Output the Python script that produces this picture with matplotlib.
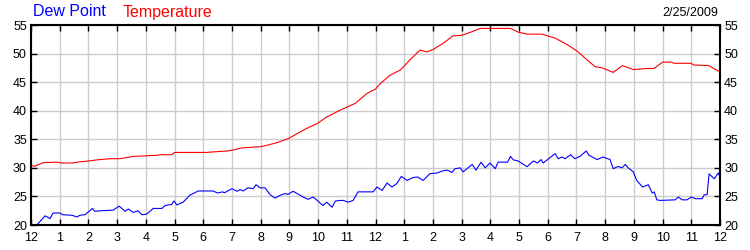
import matplotlib
matplotlib.use('Agg')
import matplotlib.pyplot as plt

plt.rcParams['font.family'] = ['Liberation Sans', 'DejaVu Sans']

# hours since midnight (2/25/2009)
temp_hours = [0.0, 0.14, 0.42, 0.9, 1.07, 1.46, 1.6, 2.0, 2.3, 2.75, 3.1, 3.55,
              4.4, 4.5, 4.9, 5.0, 6.1, 6.93, 7.35, 7.98, 8.1, 8.33, 8.57, 9.0,
              9.27, 9.6, 9.97, 10.3, 10.77, 11.3, 11.46, 11.7, 12.0, 12.16, 12.5,
              12.86, 13.2, 13.55, 13.8, 14.0, 14.36, 14.7, 15.0, 15.3, 15.64,
              16.7, 17.0, 17.3, 17.8, 18.26, 18.7, 19.06, 19.3, 19.65, 19.9,
              20.28, 20.6, 20.98, 21.5, 21.7, 22.0, 22.3, 22.4, 23.0, 23.07,
              23.6, 24.0]
temperature = [30.4, 30.3, 30.9, 31.0, 30.85, 30.85, 31.0, 31.2, 31.4, 31.6, 31.6, 32.0,
               32.2, 32.3, 32.3, 32.7, 32.7, 33.0, 33.5, 33.7, 33.8, 34.1, 34.4, 35.2,
               36.0, 36.9, 37.75, 38.9, 40.1, 41.3, 42.0, 43.0, 43.8, 44.7, 46.2,
               47.1, 48.9, 50.6, 50.3, 50.7, 51.8, 53.1, 53.2, 53.7, 54.4,
               54.4, 53.7, 53.4, 53.4, 52.7, 51.5, 50.3, 49.2, 47.7, 47.5,
               46.7, 47.9, 47.2, 47.4, 47.4, 48.5, 48.5, 48.3, 48.3, 48.0,
               47.9, 46.8]

dew_hours = [0.0, 0.2, 0.49, 0.57, 0.66, 0.77, 1.0, 1.1, 1.43, 1.6, 1.7, 1.88,
             2.05, 2.14, 2.22, 2.47, 2.86, 3.07, 3.28, 3.39, 3.56, 3.73, 3.86,
             4.03, 4.26, 4.56, 4.67, 4.9, 4.98, 5.08, 5.3, 5.53, 5.82, 6.34,
             6.5, 6.67, 6.74, 7.0, 7.18, 7.28, 7.39, 7.56, 7.74, 7.84, 7.98,
             8.15, 8.33, 8.5, 8.6, 8.68, 8.85, 8.95, 9.13, 9.27, 9.48, 9.65,
             9.83, 9.97, 10.17, 10.3, 10.49, 10.6, 10.77, 10.88, 11.05, 11.22,
             11.39, 11.7, 11.92, 12.05, 12.23, 12.4, 12.57, 12.74, 12.9, 13.1,
             13.3, 13.47, 13.66, 13.9, 14.15, 14.32, 14.5, 14.67, 14.77, 14.95,
             15.05, 15.37, 15.5, 15.68, 15.82, 15.99, 16.17, 16.27, 16.6, 16.7,
             16.8, 16.97, 17.28, 17.5, 17.64, 17.77, 17.84, 18.08, 18.26, 18.36,
             18.5, 18.6, 18.8, 18.94, 19.12, 19.34, 19.44, 19.72, 19.93, 20.17,
             20.28, 20.45, 20.59, 20.7, 20.8, 20.98, 21.1, 21.3, 21.5, 21.64,
             21.71, 21.8, 21.92, 22.44, 22.55, 22.68, 22.85, 23.0, 23.14, 23.38,
             23.45, 23.55, 23.62, 23.8, 23.94, 24.0]
dew_point = [20.0, 20.0, 21.6, 21.4, 21.1, 22.1, 22.1, 21.8, 21.7, 21.4, 21.7, 21.8,
             22.5, 22.9, 22.4, 22.5, 22.6, 23.3, 22.4, 22.8, 22.2, 22.5, 21.8,
             21.9, 22.9, 22.9, 23.4, 23.6, 24.2, 23.5, 24.0, 25.2, 25.95, 25.95,
             25.6, 25.8, 25.65, 26.35, 25.9, 26.2, 25.95, 26.5, 26.35, 27.05, 26.5,
             26.5, 25.3, 24.7, 25.0, 25.2, 25.5, 25.35, 25.9, 25.5, 24.9, 24.5,
             24.9, 24.3, 23.4, 24.0, 23.1, 24.2, 24.3, 24.3, 24.0, 24.3,
             25.8, 25.8, 25.8, 26.65, 26.05, 27.35, 26.65, 27.25, 28.5, 27.8,
             28.3, 28.4, 27.8, 29.0, 29.1, 29.45, 29.6, 29.2, 29.85, 30.0,
             29.3, 30.6, 29.6, 31.0, 30.0, 30.85, 29.85, 31.0, 31.0, 32.0,
             31.4, 31.2, 30.2, 31.2, 30.85, 31.45, 30.85, 31.8, 32.5, 31.6,
             31.9, 31.6, 32.3, 31.6, 32.0, 32.95, 32.2, 31.45, 31.9, 31.45,
             29.85, 30.25, 30.0, 30.6, 30.0, 29.3, 27.8, 26.65, 27.05, 25.6,
             25.8, 24.4, 24.3, 24.4, 24.9, 24.4, 24.4, 24.9, 24.6, 24.6,
             25.3, 25.3, 28.95, 28.1, 29.1, 28.4]

hour_ticks = list(range(0, 25))
hour_labels = ['12', '1', '2', '3', '4', '5', '6', '7', '8', '9', '10', '11',
               '12', '1', '2', '3', '4', '5', '6', '7', '8', '9', '10', '11', '12']
y_ticks = [20, 25, 30, 35, 40, 45, 50, 55]

fig = plt.figure(figsize=(7.5, 2.5), dpi=100)
ax = fig.add_axes([31 / 750, 0.1, 689 / 750, 0.8])

ax.plot(temp_hours, temperature, color='#ff0000', lw=0.8)
ax.plot(dew_hours, dew_point, color='#0000ff', lw=0.8)

ax.set_xlim(0, 24)
ax.set_ylim(20, 55)
ax.set_xticks(hour_ticks)
ax.set_xticklabels(hour_labels)
ax.set_yticks(y_ticks)

ax.grid(True, color='#cccccc', lw=1)
ax.set_axisbelow(True)
for s in ax.spines.values():
    s.set_linewidth(1.5)
    s.set_color('black')

ax.tick_params(axis='both', direction='in', length=4, width=1, labelsize=9,
               top=True, right=True, labelright=True, pad=3)
ax.tick_params(axis='x', pad=5)

fig.text(33 / 750, 1 - 12 / 250, 'Dew Point', color='#0000ff', fontsize=11.5,
         va='center', ha='left')
fig.text(123 / 750, 1 - 12 / 250, 'Temperature', color='#ff0000', fontsize=11.5,
         va='center', ha='left')
fig.text(718 / 750, 1 - 13 / 250, '2/25/2009', color='black', fontsize=9,
         va='center', ha='right')

fig.savefig('out.png', dpi=100)
